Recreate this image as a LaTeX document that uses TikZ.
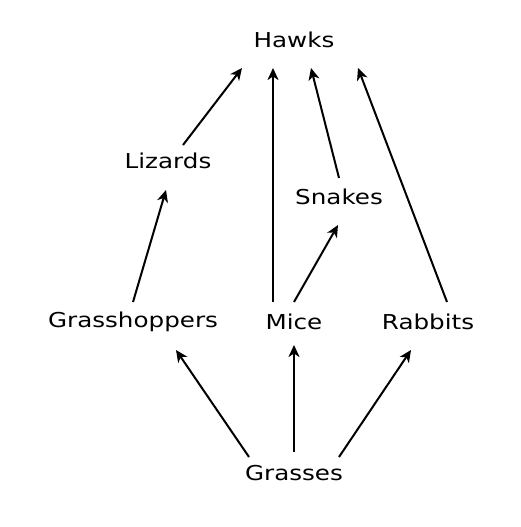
\documentclass[tikz,border=0pt]{standalone}
\usepackage{fontspec}
\setmainfont{DejaVu Sans}[FakeStretch=1.2]
\usetikzlibrary{arrows.meta}
\begin{document}
\begin{tikzpicture}[x=1pt,y=-1pt,
  lbl/.style={font=\fontsize{20.5}{24}\selectfont, inner sep=0pt, text=black},
  arr/.style={-{Stealth[length=12pt,width=11pt,inset=3.5pt]}, line width=2pt}]
\useasboundingbox[fill=white] (0,0) rectangle (520,527);
\node[lbl] (hawks) at (294,40) {Hawks};
\node[lbl] (lizards) at (168,161) {Lizards};
\node[lbl] (snakes) at (339,197) {Snakes};
\node[lbl] (grass) at (133,322) {Grasshoppers};
\node[lbl] (mice) at (294,322) {Mice};
\node[lbl] (rabbits) at (428,322) {Rabbits};
\node[lbl] (grasses) at (294,473) {Grasses};
\coordinate (l1) at ([shift={(15,-16)}]lizards.center);
\coordinate (h1) at ([shift={(-52,28)}]hawks.center);
\coordinate (m1) at ([shift={(-21,-20)}]mice.center);
\coordinate (h2) at ([shift={(-21,28)}]hawks.center);
\coordinate (s1) at ([shift={(0,-19)}]snakes.center);
\coordinate (h3) at ([shift={(17,28)}]hawks.center);
\coordinate (r1) at ([shift={(19,-20)}]rabbits.center);
\coordinate (h4) at ([shift={(64,28)}]hawks.center);
\coordinate (g1) at ([shift={(0,-20)}]grass.center);
\coordinate (l2) at ([shift={(-2,29)}]lizards.center);
\coordinate (m2) at ([shift={(0,-20)}]mice.center);
\coordinate (s2) at ([shift={(-1,28)}]snakes.center);
\coordinate (gs1) at ([shift={(-45,-16)}]grasses.center);
\coordinate (gh) at ([shift={(43,28)}]grass.center);
\coordinate (gs2) at ([shift={(0,-21)}]grasses.center);
\coordinate (mi) at ([shift={(0,23)}]mice.center);
\coordinate (gs3) at ([shift={(45,-16)}]grasses.center);
\coordinate (ra) at ([shift={(-17,28)}]rabbits.center);
\draw[arr] (l1) -- (h1);
\draw[arr] (m1) -- (h2);
\draw[arr] (s1) -- (h3);
\draw[arr] (r1) -- (h4);
\draw[arr] (g1) -- (l2);
\draw[arr] (m2) -- (s2);
\draw[arr] (gs1) -- (gh);
\draw[arr] (gs2) -- (mi);
\draw[arr] (gs3) -- (ra);
\end{tikzpicture}
\end{document}
